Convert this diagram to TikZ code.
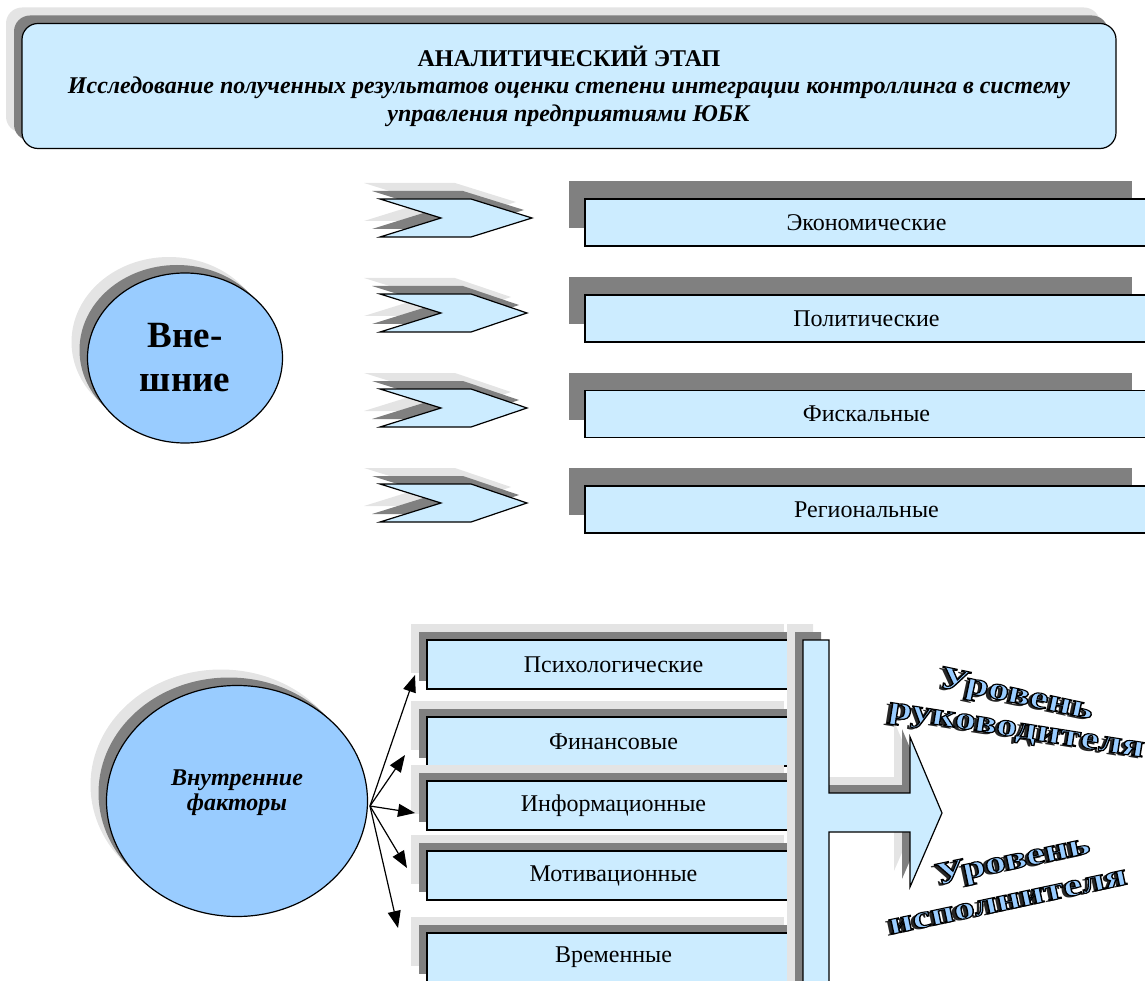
\documentclass[tikz,border=0pt]{standalone}
\usepackage{fontspec}
\setmainfont{Liberation Serif}
\usetikzlibrary{arrows.meta,shadows,shapes.geometric,positioning}
\definecolor{paleblue}{RGB}{204,236,255}
\definecolor{ovalblue}{RGB}{153,204,255}
\definecolor{shdark}{RGB}{128,128,128}
\definecolor{shlight}{RGB}{228,228,228}
% outlined letters: fill blue, stroke black
\newcommand{\wart}[1]{\textcolor{ovalblue}{\special{pdf:literal direct 0 0 0 RG 1.1 w 2 Tr}#1\special{pdf:literal direct 0 Tr}}}

\tikzset{
  twoshadow/.style={drop shadow={shadow xshift=-16pt,shadow yshift=16pt,fill=shlight,opacity=1},
                    drop shadow={shadow xshift=-8pt,shadow yshift=8pt,fill=shdark,opacity=1}},
  titlebox/.style={draw,line width=1.2pt,fill=paleblue,rounded corners=16pt,
                   minimum width=1094pt,minimum height=125pt,align=center,
                   font=\fontsize{24}{27.5}\selectfont,twoshadow},
  chev/.style={draw,line width=1.2pt,fill=paleblue,twoshadow},
  kindbox/.style={draw,line width=1.2pt,fill=paleblue,minimum width=563pt,minimum height=47pt,
                  inner sep=0pt,font=\fontsize{24}{24}\selectfont,
                  drop shadow={shadow xshift=-16pt,shadow yshift=18pt,fill=shdark,opacity=1}},
  factor/.style={draw,line width=1.2pt,fill=paleblue,minimum width=373pt,minimum height=49pt,
                 inner sep=0pt,font=\fontsize{24}{24}\selectfont,twoshadow},
  oval/.style={ellipse,draw,line width=1.2pt,fill=ovalblue,inner sep=0pt,align=center,twoshadow},
  fan/.style={line width=1.2pt,-{Triangle[length=17pt,width=13pt]}},
  wordart/.style={inner sep=0pt,font=\fontsize{32}{32}\selectfont\bfseries},
  wshade/.style={wordart,text=black!85},
}

\begin{document}
\begin{tikzpicture}[x=1pt,y=-1pt]
\useasboundingbox (0,0) rectangle (1145,981);

% title
\node[titlebox] (title) at (569,86)
  {\textbf{АНАЛИТИЧЕСКИЙ ЭТАП}\\
   \textbf{\textit{Исследование полученных результатов оценки степени интеграции контроллинга в систему}}\\
   \textbf{\textit{управления предприятиями ЮБК}}};

% external factors
\node[oval,minimum width=195pt,minimum height=170pt,font=\fontsize{37}{44}\selectfont\bfseries]
  (ext) at (185,358) {Вне-\\шние};

\foreach \y/\t in {218/532,313/527,408/527,503/527}
  \draw[chev] (380,\y-19) -- (441,\y) -- (380,\y+19) -- (471,\y+19) -- (\t,\y) -- (471,\y-19) -- cycle;

\node[kindbox] (econ) at (866.5,222.5) {Экономические};
\node[kindbox] (polit) at (866.5,318.5) {Политические};
\node[kindbox] (fisc) at (866.5,414) {Фискальные};
\node[kindbox] (reg) at (866.5,509.5) {Региональные};

% internal factors
\node[oval,minimum width=261pt,minimum height=231pt,font=\fontsize{24}{25}\selectfont\bfseries\itshape]
  (int) at (237,801) {Внутренние\\факторы\\[-3pt]};

\foreach \y/\n/\t in {664.5/psy/Психологические,741.5/fin/Финансовые,805.5/inf/Информационные,
                      875.5/mot/Мотивационные,957.5/tim/Временные}
  \node[factor] (\n) at (613.5,\y) {\t};

\coordinate (src) at (370,806);
\coordinate (tpsy) at (415,675);
\coordinate (tfin) at (405,755);
\coordinate (tinf) at (415,813);
\coordinate (tmot) at (407,868);
\coordinate (ttim) at (398,928);
\foreach \n in {psy,fin,inf,mot,tim}
  \draw[fan] (src) -- (t\n);

% collecting arrow
\draw[chev] (803,640) -- (829,640) -- (829,793) -- (910,793) -- (910,737) -- (942,813)
  -- (910,887) -- (910,832) -- (829,832) -- (829,1000) -- (803,1000) -- cycle;

% levels
\node[wshade,rotate=-12,xscale=1.3] (bossS) at (1013,698) {Уровень};
\node[wordart,rotate=-12,xscale=1.3] (boss) at (1016,696) {\wart{Уровень}};
\node[wshade,rotate=-9,xscale=1.3] (boss2S) at (1013,735) {руководителя};
\node[wordart,rotate=-9,xscale=1.3] (boss2) at (1016,733) {\wart{руководителя}};
\node[wshade,rotate=12,xscale=1.3] (execS) at (1010,864) {Уровень};
\node[wordart,rotate=12,xscale=1.3] (exec) at (1013,862) {\wart{Уровень}};
\node[wshade,rotate=12,xscale=1.3] (exec2S) at (1005,904) {исполнителя};
\node[wordart,rotate=12,xscale=1.3] (exec2) at (1008,902) {\wart{исполнителя}};
\end{tikzpicture}
\end{document}
